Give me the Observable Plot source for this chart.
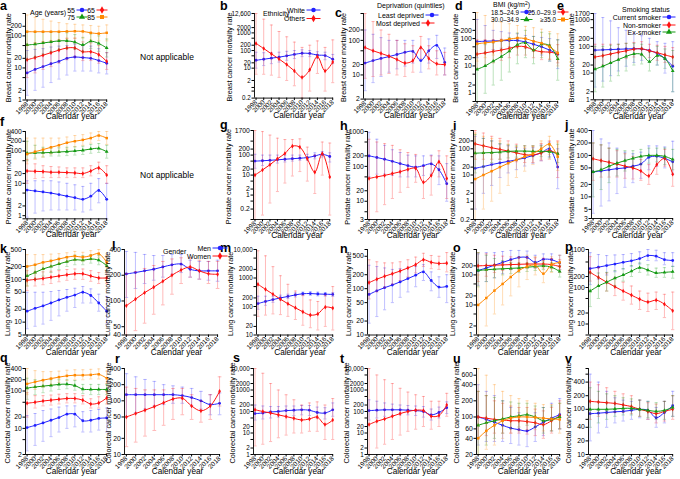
<!DOCTYPE html>
<html><head><meta charset="utf-8">
<script src="https://cdn.jsdelivr.net/npm/d3@7"></script>
<script src="https://cdn.jsdelivr.net/npm/@observablehq/plot@0.6"></script>
<style>
body{margin:0;background:#fff;}
#root{position:relative;width:680px;height:479px;overflow:hidden;font-family:"Liberation Sans",Arial,sans-serif;background:#fff;}
#root svg{position:absolute;overflow:visible;background:transparent;}
</style></head><body><div id="root"></div>
<script>
const years = [1998,2000,2002,2004,2006,2008,2010,2012,2014,2016,2018];

// ---- Breast ----
const aV = [[7,9,11,13.5,16,20,22,21,20,17,14],[18,21,25,30,36,42,42,32,32,26,16],[52,55,60,65,70,70,64,52,68,58,42],[135,135,135,135,135,138,140,138,125,118,125]];
const aLo = [[1.4,2,2.5,3.5,4.5,6,8,8,8,7,6.5],[5,7,9,11,14,18,22,17,17,14,9],[18,22,27,32,38,40,38,32,40,33,22],[50,60,65,70,75,80,85,85,75,70,70]];
const aHi = [[35,38,40,45,48,50,55,50,48,40,30],[55,60,65,70,75,85,85,65,60,50,30],[140,130,130,130,130,125,110,90,115,100,80],[450,380,330,290,260,240,230,220,210,200,220]];

const bV = [[28,32,37,42,50,60,70,68,55,52,32],[250,130,65,33,16,7,3,8,45,7,22]];
const bLo = [[10,14,18,22,28,35,45,45,35,30,18],[4.5,4.5,4,3,2,1,0.2,0.5,5,0.5,1.5]];
const bHi = [[80,75,75,80,90,100,110,100,85,80,60],[12600,6000,2800,1200,600,300,150,200,350,150,400]];

const cV = [[22,26,30,34,39,45,48,26,50,72,23],[62,50,42,35,28,22,26,62,30,21,20]];
const cLo = [[3.5,6,9,12,15,18,22,12,22,30,10],[8,9,10,11,10,9,12,30,15,10,10]];
const cHi = [[200,150,120,100,100,100,100,60,110,140,60],[600,350,200,150,100,80,70,130,70,50,45]];

const dV = [[78,80,82,84,85,85,75,62,50,38,27],[27,30,34,38,44,52,50,38,33,32,28],[7.5,10,15,22,35,60,70,38,62,55,18],[65,70,75,85,95,105,100,80,68,50,30]];
const dLo = [[20,30,40,45,50,50,45,35,25,15,8],[8,10,13,16,20,25,25,20,17,17,13],[0.5,1,2,3,6,12,20,12,20,15,3],[15,20,25,30,38,45,45,35,28,18,10]];
const dHi = [[500,300,200,180,160,150,130,120,110,100,90],[90,90,90,95,100,105,100,75,65,60,60],[60,60,70,80,110,160,200,120,170,150,90],[900,700,500,400,350,300,280,250,220,180,150]];

const eV = [[72,74,76,78,80,82,80,70,55,35,18],[40,45,52,60,68,78,82,68,58,48,40],[14,18,24,32,42,52,50,27,45,35,12]];
const eLo = [[3,5,8,12,18,25,30,25,20,10,2],[15,20,25,30,35,40,45,38,30,25,20],[2,3,5,8,12,20,22,12,20,15,2]];
const eHi = [[1700,1200,900,500,400,300,250,200,150,130,150],[120,120,120,120,130,140,150,120,110,100,90],[100,100,110,120,130,130,120,60,100,80,70]];

// ---- Prostate ----
const fV = [[6.2,5.8,5.4,5,4.5,4,3.6,3.2,4,6,3.2],[24,23.5,23,22,22,21.5,21,20,24,30,18],[85,87,88,90,93,96,100,105,115,120,95],[80,95,110,130,150,180,200,220,250,300,250]];
const fLo = [[0.9,1.2,1.4,1.5,1.5,1.5,1.5,1.3,1.5,2.5,0.8],[10,14,15,15,15,15,15,15,17,20,10],[50,60,65,70,70,72,75,78,85,90,60],[40,55,65,80,95,115,135,150,175,210,160]];
const fHi = [[12,12,12,12,11,10,9,8,10,14,10],[55,40,35,33,32,30,30,30,35,45,35],[200,150,130,125,125,130,135,140,160,170,150],[250,250,250,250,250,270,300,320,360,400,400]];

const gV = [[50,52,55,58,62,66,70,75,90,110,85],[10,18,33,65,120,280,250,65,14,120,8]];
const gLo = [[22,30,35,40,45,50,55,55,65,80,45],[0.06,0.1,0.4,1.5,4,9,15,5,1.2,10,0.1]];
const gHi = [[110,100,100,100,100,100,100,110,130,150,130],[1700,1500,1000,700,600,600,650,250,100,450,400]];

const hV = [[200,180,160,140,120,105,95,105,118,80,32],[45,50,55,62,70,82,88,35,55,135,45]];
const hLo = [[50,60,60,55,50,50,50,55,60,30,10],[3,5,8,12,18,25,35,12,15,50,12]];
const hHi = [[950,600,400,300,250,210,200,200,210,200,120],[600,500,450,400,300,250,220,100,200,280,200]];

const iV = [[18,21,25,29,33,38,45,55,70,100,20],[155,130,110,95,82,70,60,58,70,85,65],[68,70,72,75,80,82,82,80,80,78,65],[7,10,14,20,28,38,50,65,100,150,50]];
const iLo = [[0.5,2,4,8,12,16,22,28,35,50,3],[40,40,40,40,35,32,30,30,35,40,8],[12,20,30,40,45,48,50,50,50,45,30],[0.2,0.5,1,2,4,8,14,25,40,60,15]];
const iHi = [[300,250,200,150,130,110,100,110,140,180,100],[500,400,300,250,200,150,130,130,160,200,200],[350,250,200,160,140,130,130,130,130,140,150],[400,300,250,200,150,120,110,120,200,300,180]];

const jV = [[40,42,45,48,50,55,62,90,95,85,70],[83,75,68,62,55,50,42,32,60,85,35],[40,45,55,65,75,85,95,100,100,95,80]];
const jLo = [[4,6,8,12,17,22,28,45,55,50,35],[25,30,30,30,28,27,25,20,35,55,18],[10,15,22,32,42,52,60,65,70,60,45]];
const jHi = [[400,250,200,150,120,110,120,170,170,160,220],[200,180,150,130,110,95,80,60,100,140,80],[200,180,150,140,130,130,140,150,150,150,140]];

// ---- Lung ----
const kV = [[18,21,24,28,33,38,43,50,42,28,18],[95,100,105,112,120,128,135,135,120,108,108],[120,145,175,200,230,260,290,280,300,280,210],[200,220,250,270,300,330,350,330,360,400,250]];
const kLo = [[7,8,9,11,14,18,22,28,28,18,9],[55,70,75,80,88,95,100,100,90,80,80],[70,100,120,145,170,200,220,220,240,220,150],[70,140,170,200,230,260,280,270,290,320,190]];
const kHi = [[50,50,50,52,55,58,62,68,60,45,40],[160,150,150,155,160,170,175,175,160,145,150],[210,220,250,280,310,340,370,360,380,360,280],[380,380,380,390,400,420,450,430,470,500,360]];

const lV = [[207,215,225,235,250,265,270,235,225,225,225],[88,105,125,145,170,200,230,250,225,208,205]];
const lLo = [[110,140,160,175,190,205,215,190,180,175,170],[40,45,55,70,90,120,160,190,180,160,140]];
const lHi = [[380,370,350,340,340,350,350,300,290,290,300],[210,220,240,260,290,310,320,320,300,290,290]];

const mV = [[127,150,175,200,225,255,280,285,275,270,265],[600,400,270,180,125,90,65,50,55,95,88]];
const mLo = [[80,110,140,170,190,215,240,245,235,230,225],[45,50,55,52,45,35,22,18,15,20,15]];
const mHi = [[230,230,230,250,270,300,320,330,320,310,310],[9000,6000,2500,1200,600,350,250,170,150,250,500]];

const nV = [[75,90,105,120,140,165,195,230,150,108,112],[135,160,185,210,240,280,330,420,370,350,355]];
const nLo = [[18,25,35,50,65,85,110,150,90,65,50],[60,85,105,125,150,180,220,300,270,260,230]];
const nHi = [[320,300,280,260,270,290,300,330,230,180,200],[420,380,360,360,380,420,480,580,520,500,600]];

const oV = [[140,170,210,260,320,380,380,260,330,320,250],[200,205,210,215,220,225,230,230,230,220,190],[140,148,155,160,165,170,180,190,200,180,130],[10,17,30,50,85,140,190,210,110,220,260]];
const oLo = [[45,60,80,110,150,200,230,170,220,200,150],[60,90,120,140,150,160,170,170,170,160,120],[40,60,80,100,110,120,130,140,150,130,85],[1,2,5,10,20,40,70,100,55,120,150]];
const oHi = [[500,550,550,600,650,650,620,450,500,500,450],[550,500,450,420,400,380,380,370,360,350,320],[550,450,350,300,260,250,250,260,270,260,200],[100,150,200,250,300,400,450,400,300,400,450]];

const pV = [[330,360,400,440,490,540,620,750,720,580,550],[260,190,140,105,80,62,48,40,45,35,23],[80,110,140,180,220,280,350,300,250,260,270]];
const pLo = [[120,170,220,270,320,380,440,550,540,420,380],[150,110,80,60,45,35,25,22,25,15,7],[30,50,80,110,150,200,260,220,190,190,180]];
const pHi = [[900,800,750,780,800,850,950,1100,1050,900,900],[700,350,250,190,140,110,80,70,75,65,75],[250,250,260,290,330,400,470,420,340,350,380]];

// ---- Colorectal ----
const qV = [[10.5,12,14,16.5,19.5,24,24,16,16.5,18.5,19],[47,50,54,57,60,63,63,57,45,48,65],[120,128,135,142,150,152,140,112,110,110,110],[155,175,195,215,235,255,265,265,270,280,220]];
const qLo = [[2.5,3.5,4.5,6,8,10,11,8,8,9,8],[20,35,40,42,45,48,48,45,35,35,45],[60,80,90,100,110,115,105,85,80,80,80],[80,110,130,150,170,190,200,200,210,210,160]];
const qHi = [[22,25,30,33,37,40,40,28,30,32,35],[90,75,75,78,82,85,85,75,62,70,95],[220,200,200,200,200,200,190,150,150,150,150],[400,350,330,330,340,360,370,370,380,390,340]];

const rV = [[130,130,130,130,130,130,125,115,100,85,90],[50,58,67,78,92,108,112,80,65,80,150]];
const rLo = [[50,60,70,80,85,90,90,80,70,55,55],[14,17,22,28,35,45,55,45,40,45,80]];
const rHi = [[320,280,250,230,200,190,180,170,150,130,140],[180,170,160,160,160,170,170,130,100,130,280]];

const sV = [[80,85,95,100,110,115,120,115,90,85,120],[120,100,85,70,58,48,40,45,55,25,40]];
const sLo = [[40,45,50,55,60,65,70,65,50,45,60],[2.5,3,4,6,8,10,10,12,12,5,5]];
const sHi = [[200,180,170,170,180,180,190,190,160,150,250],[10000,6000,2000,1000,600,350,200,250,280,200,400]];

const tV = [[110,115,120,120,120,115,110,100,70,90,150],[25,35,45,60,80,100,115,110,60,65,200]];
const tLo = [[40,50,60,65,70,70,65,55,40,50,80],[1,2,3,5,8,12,15,20,15,20,60]];
const tHi = [[350,300,250,220,200,190,180,170,130,160,280],[10000,5000,3000,2000,1200,800,600,500,300,300,700]];

const uV = [[100,90,80,70,62,58,55,65,80,95,110],[100,95,90,88,85,85,82,78,72,85,105],[70,78,85,92,100,105,110,100,85,90,100],[40,55,70,85,95,100,100,98,95,92,90]];
const uLo = [[30,35,35,35,32,30,28,35,45,55,60],[40,45,50,50,50,50,48,45,40,50,60],[20,30,40,50,60,65,70,65,50,55,60],[20,25,30,40,50,55,58,58,55,55,50]];
const uHi = [[400,300,250,200,150,120,110,120,150,180,220],[300,250,200,180,160,150,150,140,130,150,200],[300,250,230,200,190,180,180,160,150,160,180],[800,600,400,300,250,220,200,180,170,170,180]];

const vV = [[80,82,85,88,90,95,100,95,65,85,120],[150,145,140,135,125,115,100,90,80,90,100],[100,100,100,102,105,105,100,95,90,95,110]];
const vLo = [[20,30,40,50,55,60,65,60,40,50,70],[60,70,80,85,85,80,70,60,50,55,60],[40,50,60,70,75,75,70,65,60,60,70]];
const vHi = [[600,400,250,180,160,150,160,150,110,150,250],[400,350,300,250,220,200,160,140,130,150,200],[300,250,220,200,180,170,160,150,140,150,200]];

// tick lists
const aTicks=[1,2,5,10,20,50,100,200,500];
const bTicks=[0.2,0.5,0.8,2,10,20,50,100,200,500,1000,2000,5000,12600];
const cTicks=[2,5,10,20,50,100,200,600];
const dTicks=[0.5,1,2,5,10,20,50,100,200,500,900];
const eTicks=[1,2,5,10,20,50,100,200,500,1000,1700];
const fTicks=[0.8,1,2,5,10,20,50,100,200,400];
const gTicks=[0.06,0.2,0.5,1,2,5,10,20,50,100,200,500,1700];
const hTicks=[3,5,10,20,50,100,200,500,1000];
const iTicks=[0.2,0.5,1,2,5,10,20,50,100,200,500];
const jTicks=[3,5,10,20,50,100,200,400];
const kTicks=[5,10,20,50,100,200,500];
const lTicks=[40,50,100,200,400];
const mTicks=[10,20,50,100,200,500,1000,2000,5000,10000];
const nTicks=[10,20,50,100,200,500,700];
const oTicks=[1,2,5,10,20,50,100,200,700];
const pTicks=[5,10,20,50,100,200,500,1100];
const qTicks=[2,5,10,20,50,100,200,400];
const rTicks=[10,20,50,100,200,400];
const sTicks=[1,2,5,10,20,50,100,200,500,1000,2000,5000,10000];
const tTicks=[1,2,5,10,20,50,100,200,500,1000,2000,5000,10000];
const uTicks=[20,40,60,100,200,400,600,800];
const vTicks=[10,20,40,60,100,200,400,600,800];

const BR = "Breast cancer mortality rate", PR = "Prostate cancer mortality rate", LU = "Lung cancer mortality rate", CO = "Colorectal cancer mortality rate";

const COL = {B:"#2222ff", R:"#ff1111", G:"#149a14", O:"#ff8800"};
const SYM = {B:"circle", R:"diamond", G:"triangle", O:"square"};
const D3SYM = {B:d3.symbolCircle, R:d3.symbolDiamond, G:d3.symbolTriangle, O:d3.symbolSquare};

const R1 = [12.5, 99], R2 = [130.5, 218.5], R3 = [249, 334.5], R4 = [368, 454];
const panels = [
 {x0:25, x1:107, r:R1, dom:[1,500], t:aTicks, lab:BR, yl:17, cols:"BRGO", V:aV, L:aLo, H:aHi, xl:19},
 {x0:254, x1:333, r:[12.7,97.3], dom:[0.2,12600], t:bTicks, lab:BR, yl:25, cols:"BR", V:bV, L:bLo, H:bHi, xl:20, fs:6.3},
 {x0:363, x1:445, r:[12.7,98.3], dom:[2,600], t:cTicks, lab:BR, yl:20, cols:"BR", V:cV, L:cLo, H:cHi, xl:19},
 {x0:475, x1:558, r:[11.7,100.7], dom:[0.5,900], t:dTicks, lab:BR, yl:20, cols:"BRGO", V:dV, L:dLo, H:dHi, xl:17},
 {x0:593, x1:673, r:[12.7,99], dom:[1,1700], t:eTicks, lab:BR, yl:22, cols:"BRG", V:eV, L:eLo, H:eHi, xl:19},
 {x0:25, x1:107, r:[131,218.3], dom:[0.8,400], t:fTicks, lab:PR, yl:17, cols:"BRGO", V:fV, L:fLo, H:fHi, xl:18},
 {x0:253, x1:330, r:[130,219], dom:[0.06,1700], t:gTicks, lab:PR, yl:25, cols:"BR", V:gV, L:gLo, H:gHi, xl:18},
 {x0:367, x1:447, r:[131,219], dom:[3,1000], t:hTicks, lab:PR, yl:20, cols:"BR", V:hV, L:hLo, H:hHi, xl:18},
 {x0:473, x1:558, r:[130,219], dom:[0.2,500], t:iTicks, lab:PR, yl:21, cols:"BRGO", V:iV, L:iLo, H:iHi, xl:18},
 {x0:591, x1:673, r:[130,218], dom:[3,400], t:jTicks, lab:PR, yl:20, cols:"BRG", V:jV, L:jLo, H:jHi, xl:19},
 {x0:25, x1:107, r:R3, dom:[5,500], t:kTicks, lab:LU, yl:18, cols:"BRGO", V:kV, L:kLo, H:kHi, xl:20},
 {x0:124, x1:218, r:R3, dom:[40,400], t:lTicks, lab:LU, yl:17, cols:"BR", V:lV, L:lLo, H:lHi, xl:20},
 {x0:256, x1:333, r:R3, dom:[10,10000], t:mTicks, lab:LU, yl:26, cols:"BR", V:mV, L:mLo, H:mHi, xl:20, fs:6.3},
 {x0:367, x1:447, r:R3, dom:[10,700], t:nTicks, lab:LU, yl:19, cols:"BR", V:nV, L:nLo, H:nHi, xl:20},
 {x0:476, x1:560, r:R3, dom:[1,700], t:oTicks, lab:LU, yl:24, cols:"BRGO", V:oV, L:oLo, H:oHi, xl:20},
 {x0:588, x1:673, r:R3, dom:[5,1100], t:pTicks, lab:LU, yl:18, cols:"BRG", V:pV, L:pLo, H:pHi, xl:20},
 {x0:25, x1:107, r:R4, dom:[2,400], t:qTicks, lab:CO, yl:18, cols:"BRGO", V:qV, L:qLo, H:qHi, xl:19},
 {x0:124, x1:220, r:R4, dom:[10,400], t:rTicks, lab:CO, yl:16, cols:"BR", V:rV, L:rLo, H:rHi, xl:19},
 {x0:253, x1:333, r:R4, dom:[1,10000], t:sTicks, lab:CO, yl:21, cols:"BR", V:sV, L:sLo, H:sHi, xl:19, fs:6.3},
 {x0:367, x1:447, r:R4, dom:[1,10000], t:tTicks, lab:CO, yl:21, cols:"BR", V:tV, L:tLo, H:tHi, xl:19, fs:6.3},
 {x0:476, x1:560, r:R4, dom:[20,800], t:uTicks, lab:CO, yl:20, cols:"BRGO", V:uV, L:uLo, H:uHi, xl:19},
 {x0:588, x1:673, r:R4, dom:[10,800], t:vTicks, lab:CO, yl:20, cols:"BRG", V:vV, L:vLo, H:vHi, xl:19}
];

const fmt = d => d >= 10000 ? d3.format(",")(d) : String(d);
const root = document.getElementById("root");
const FONT = "Liberation Sans, Arial, Helvetica, sans-serif";

function drawPanel(P) {
  const mL = 44, mR = 4, mT = 3, mB = 32;
  const [yT, yB] = P.r;
  const [d0, d1] = P.dom;
  const xd = [1997.6, 2018.2];
  const marks = [];
  P.V.forEach((vs, i) => {
    const k = P.cols[i], c = COL[k];
    const rows = years.map((yr, j) => ({yr, v: vs[j], lo: Math.max(P.L[i][j], d0), hi: Math.min(P.H[i][j], d1), clo: P.L[i][j] >= d0, chi: P.H[i][j] <= d1}));
    marks.push(Plot.ruleX(rows, {x: "yr", y1: "lo", y2: "hi", stroke: c, strokeOpacity: 0.32, strokeWidth: 0.9}));
    marks.push(Plot.link(rows.filter(r => r.clo), {x1: d => d.yr - 0.4, x2: d => d.yr + 0.4, y1: "lo", y2: "lo", stroke: c, strokeOpacity: 0.32, strokeWidth: 0.9}));
    marks.push(Plot.link(rows.filter(r => r.chi), {x1: d => d.yr - 0.4, x2: d => d.yr + 0.4, y1: "hi", y2: "hi", stroke: c, strokeOpacity: 0.32, strokeWidth: 0.9}));
    marks.push(Plot.line(rows, {x: "yr", y: "v", stroke: c, strokeWidth: 1, curve: "catmull-rom"}));
    marks.push(Plot.dot(rows, {x: "yr", y: "v", fill: c, stroke: "none", r: 1.4, symbol: SYM[k]}));
  });
  marks.push(Plot.ruleX([xd[0]], {stroke: "#000", strokeWidth: 0.9}));
  marks.push(Plot.ruleY([d0], {stroke: "#000", strokeWidth: 0.9}));
  marks.push(Plot.axisY({ticks: P.t, tickFormat: fmt, tickSize: 2.5, tickPadding: 1.2, fontSize: P.fs || 6.8, label: null}));
  marks.push(Plot.axisX({ticks: years, tickFormat: d => String(d), tickRotate: -45, tickSize: 2.5, tickPadding: 0.5, fontSize: 6.5, label: null}));
  marks.push(Plot.text(["Calendar year"], {text: d => d, frameAnchor: "bottom", dy: P.xl, dx: 5, fontSize: 8.2}));
  const svg = Plot.plot({
    width: (P.x1 - P.x0) + mL + mR, height: (yB - yT) + mT + mB,
    marginLeft: mL, marginRight: mR, marginTop: mT, marginBottom: mB,
    x: {type: "linear", domain: xd},
    y: {type: "log", domain: P.dom},
    style: {fontFamily: FONT, color: "#000", background: "transparent", overflow: "visible"},
    marks
  });
  svg.style.left = (P.x0 - mL) + "px";
  svg.style.top = (yT - mT) + "px";
  svg.style.maxWidth = "none";
  root.appendChild(svg);
}
panels.forEach(drawPanel);

// overlay: y-axis titles, panel letters, legends, notes
const ov = d3.select(root).append("svg").attr("width", 680).attr("height", 479)
  .style("left", "0px").style("top", "0px").style("font-family", FONT);

panels.forEach(P => {
  const cx = P.x0 - P.yl, cy = (P.r[0] + P.r[1]) / 2 + 2;
  ov.append("text").attr("transform", `translate(${cx},${cy}) rotate(-90)`)
    .attr("text-anchor", "middle").attr("dominant-baseline", "central")
    .attr("font-size", 7.3).text(P.lab);
});

const letters = [["a",0,9.5],["b",220,10],["c",335,17],["d",455,10],["e",557,9.5],
 ["f",0,126],["g",220,129],["h",340,130],["i",453,130],["j",565,129],
 ["k",0,253],["l",112,250],["m",220,252],["n",340,253],["o",453,252],["p",565,251],
 ["q",0,362],["r",115,363],["s",233,362],["t",340,363],["u",453,363],["v",565,363]];
ov.selectAll("text.let").data(letters).join("text").attr("class","let")
  .attr("x", d => d[1]).attr("y", d => d[2]).text(d => d[0])
  .attr("font-size", 12.5).attr("font-weight", "bold");

[60, 178].forEach(y => ov.append("text").attr("x", 167).attr("y", y).attr("text-anchor", "middle").attr("font-size", 8.5).text("Not applicable"));

function title(x, y, s, fs = 7) {
  return ov.append("text").attr("x", x).attr("y", y + 2.5).attr("font-size", fs).text(s);
}
function item(xEnd, y, s, k, w = 13, fs = 7) {
  ov.append("text").attr("x", xEnd).attr("y", y + 2.5).attr("font-size", fs).attr("text-anchor", "end").text(s);
  ov.append("line").attr("x1", xEnd + 1.5).attr("x2", xEnd + 1.5 + w).attr("y1", y).attr("y2", y).attr("stroke", COL[k]).attr("stroke-width", 1);
  ov.append("path").attr("d", d3.symbol(D3SYM[k], 16)()).attr("transform", `translate(${xEnd + 1.5 + w / 2},${y})`).attr("fill", COL[k]);
}
// a
title(30, 12.5, "Age (years)");
item(75, 10, "55", "B", 11); item(95, 10, "65", "R", 11);
item(75, 17, "75", "G", 11); item(95, 17, "85", "O", 11);
// b
title(263, 13, "Ethnicity");
item(305, 10, "White", "B", 14); item(305, 18.5, "Others", "R", 14);
// c
title(377, 5, "Deprivation (quintiles)");
item(424, 15, "Least deprived", "B", 13); item(420, 23, "Most deprived", "R", 13);
// d
const bt = title(493, 4.5, "BMI (kg/m");
bt.append("tspan").attr("dy", -2.5).attr("font-size", 5).text("2");
bt.append("tspan").attr("dy", 2.5).text(")");
item(519, 12, "18.5–24.9", "B", 12, 6.3); item(556, 12, "25.0–29.9", "R", 11, 6.3);
item(519, 19.5, "30.0–34.9", "G", 12, 6.3); item(556, 19.5, "≥35.0", "O", 11, 6.3);
// e
title(622, 9, "Smoking status");
item(661, 17, "Current smoker", "B", 13); item(661, 25, "Non-smoker", "R", 13); item(661, 32, "Ex-smoker", "G", 13);
// l
title(163, 251.5, "Gender");
item(211, 248, "Men", "B", 15); item(211, 256, "Women", "R", 15);
</script></body></html>
